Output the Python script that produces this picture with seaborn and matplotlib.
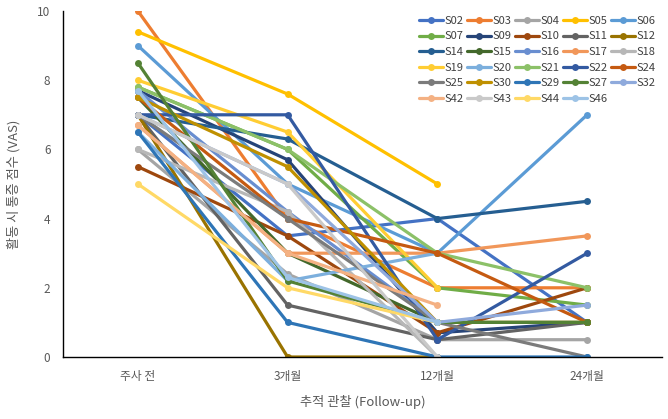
import numpy as np
import pandas as pd
import matplotlib
matplotlib.use("Agg")
import matplotlib.pyplot as plt
import seaborn as sns

timepoints = ["주사 전", "3개월", "12개월", "24개월"]
subjects = ["S02", "S03", "S04", "S05", "S06", "S07", "S09", "S10", "S11", "S12",
            "S14", "S15", "S16", "S17", "S18", "S19", "S20", "S21", "S22", "S24",
            "S25", "S30", "S29", "S27", "S32", "S42", "S43", "S44", "S46"]
nan = np.nan
S02 = [7.0, 3.5, 4.0, 1.0]
S03 = [10.0, 4.0, 2.0, 2.0]
S04 = [6.0, 2.4, 0.5, 0.5]
S05 = [9.4, 7.6, 5.0, nan]
S06 = [9.0, 5.0, 3.0, 7.0]
S07 = [7.8, 6.0, 2.0, 1.5]
S09 = [7.7, 5.7, 0.7, 1.0]
S10 = [5.5, 3.5, 0.7, 2.0]
S11 = [7.0, 1.5, 0.5, 1.0]
S12 = [7.0, 0.0, 0.0, nan]
S14 = [7.0, 6.3, 4.0, 4.5]
S15 = [7.5, 3.0, 1.0, 1.0]
S16 = [7.7, 4.2, 1.0, nan]
S17 = [6.7, 3.0, 3.0, 3.5]
S18 = [6.0, 4.2, 0.0, nan]
S19 = [8.0, 6.5, 2.0, nan]
S20 = [6.5, 2.2, 3.0, nan]
S21 = [7.8, 6.0, 3.0, 2.0]
S22 = [7.0, 7.0, 0.5, 3.0]
S24 = [7.5, 4.0, 3.0, 1.0]
S25 = [7.0, 4.0, 1.0, 0.0]
S30 = [7.5, 5.5, 1.0, 1.0]
S29 = [6.5, 1.0, 0.0, 0.0]
S27 = [8.5, 2.2, 1.0, 1.0]
S32 = [7.0, 5.0, 1.0, 1.5]
S42 = [6.7, 3.0, 1.5, nan]
S43 = [7.0, 5.0, 0.0, nan]
S44 = [5.0, 2.0, 1.0, nan]
S46 = [7.7, 2.3, 1.0, nan]

values = [S02, S03, S04, S05, S06, S07, S09, S10, S11, S12, S14, S15, S16, S17, S18,
          S19, S20, S21, S22, S24, S25, S30, S29, S27, S32, S42, S43, S44, S46]

colors = ["#4472C4", "#ED7D31", "#A5A5A5", "#FFC000", "#5B9BD5", "#70AD47",
          "#264478", "#9E480E", "#636363", "#997300", "#255E91", "#43682B",
          "#698ED0", "#F1975A", "#B7B7B7", "#FFCD33", "#7CAFDD", "#8CC168",
          "#335AA1", "#C55A11", "#7B7B7B", "#BF9000", "#2E75B6", "#548235",
          "#8FAADC", "#F4B183", "#C9C9C9", "#FFD966", "#9DC3E6"]

rows = []
for s, vals in zip(subjects, values):
    for i, v in enumerate(vals):
        if not np.isnan(v):
            rows.append({"subject": s, "t": i, "vas": v})
df = pd.DataFrame(rows)

sns.set_style("white")
plt.rcParams['font.family'] = ['Noto Sans CJK KR', 'DejaVu Sans']

fig = plt.figure(figsize=(6.68, 4.19), dpi=100)
ax = fig.add_axes([63/668, 1 - 357/419, 599/668, 346/419])

sns.lineplot(data=df, x="t", y="vas", hue="subject", hue_order=subjects,
             palette=dict(zip(subjects, colors)), marker="o", markersize=5,
             markeredgewidth=0, linewidth=2.3, ax=ax, legend=True)

ax.set_xlim(-0.5, 3.5)
ax.set_ylim(0, 10)
ax.set_xticks(range(4))
ax.set_xticklabels(timepoints)
ax.set_yticks(range(0, 11, 2))
ax.tick_params(axis="both", length=0, labelsize=8.5, labelcolor="#595959", pad=9)
ax.set_xlabel("추적 관찰 (Follow-up)", fontsize=9.5, color="#595959", labelpad=9)
ax.set_ylabel("활동 시 통증 점수 (VAS)", fontsize=9.5, color="#595959", labelpad=12)
for sp in ["top", "right"]:
    ax.spines[sp].set_visible(False)
for sp in ["left", "bottom"]:
    ax.spines[sp].set_color("black")
    ax.spines[sp].set_linewidth(1.0)

handles, labels = ax.get_legend_handles_labels()
hmap = dict(zip(labels, handles))
ncol = 5
nrows = int(np.ceil(len(subjects) / ncol))
order = []
for c in range(ncol):
    for r in range(nrows):
        k = r * ncol + c
        if k < len(subjects):
            order.append(subjects[k])
leg = ax.legend([hmap[s] for s in order], order, ncol=ncol, loc="upper right",
                bbox_to_anchor=(1.0, 1.005), frameon=False, fontsize=8,
                handlelength=2.2, columnspacing=0.3, handletextpad=0.1,
                labelspacing=0.5, borderaxespad=0.2)
for t in leg.get_texts():
    t.set_color("#404040")

fig.savefig("out.png", dpi=100)
